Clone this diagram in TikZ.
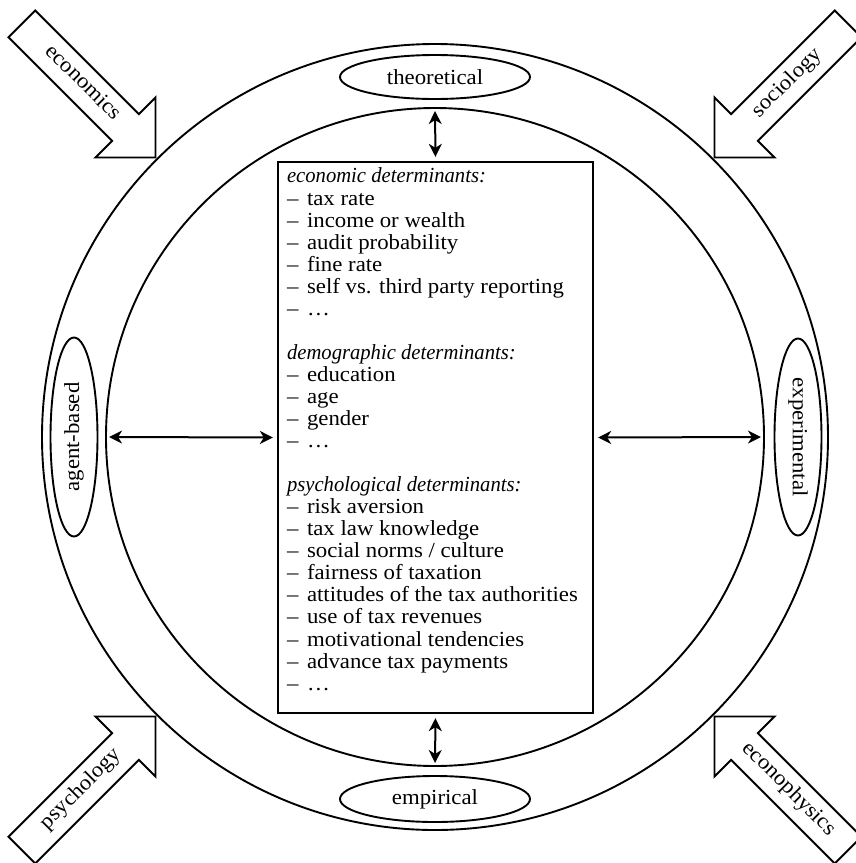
\documentclass[tikz,border=0pt]{standalone}
\usepackage{fontspec}
\setmainfont{Liberation Serif}[UprightFeatures={FakeStretch=1.06},ItalicFeatures={FakeStretch=0.96}]
\usetikzlibrary{shapes.geometric,shapes.arrows,arrows.meta,positioning}

\newcommand\detitem{\makebox[20pt][l]{--}}
\newcommand\labelfont{\fontsize{21.5}{22.05}\selectfont}

\tikzset{
  ring/.style={circle, draw, line width=1.9pt, inner sep=0pt},
  method/.style={ellipse, draw, line width=1.9pt, inner sep=0pt, font=\labelfont},
  field/.style={single arrow, draw, fill=white, line width=1.9pt,
    single arrow head extend=23.5pt, single arrow head indent=0pt,
    minimum height=189pt, text height=13pt, text depth=5pt,
    inner ysep=9pt, inner xsep=0pt, anchor=tip, font=\labelfont},
  link/.style={{Stealth[length=13pt,width=13pt,inset=4pt]}-{Stealth[length=13pt,width=13pt,inset=4pt]},
    line width=2pt, shorten <=4pt, shorten >=4pt},
}

\begin{document}
\begin{tikzpicture}[x=1pt,y=-1pt]
\useasboundingbox (0,0) rectangle (856,863);

%Shape: rings
\coordinate (c) at (435,437);
\node[ring, minimum size=786pt] (outer) at (c) {};
\node[ring, minimum size=658pt] (inner) at (c) {};

%Shape: determinants box
\node[draw, line width=2.3pt, minimum width=315pt, minimum height=551pt, inner sep=0pt] (det) at (435.5,437.5) {};

% Text Node
\node[anchor=north west, inner sep=0pt, align=left, font=\labelfont] (dettext)
  at ([xshift=10pt, yshift=-7pt]det.north west) {%
  \textit{economic determinants:}\\
  \detitem tax rate\\
  \detitem income or wealth\\
  \detitem audit probability\\
  \detitem fine rate\\
  \detitem self vs. third party reporting\\
  \detitem \dots\\[22.05pt]
  \textit{demographic determinants:}\\
  \detitem education\\
  \detitem age\\
  \detitem gender\\
  \detitem \dots\\[22.05pt]
  \textit{psychological determinants:}\\
  \detitem risk aversion\\
  \detitem tax law knowledge\\
  \detitem social norms / culture\\
  \detitem fairness of taxation\\
  \detitem attitudes of the tax authorities\\
  \detitem use of tax revenues\\
  \detitem motivational tendencies\\
  \detitem advance tax payments\\
  \detitem \dots};

%Shape: method ellipses
\node[method, minimum width=190pt, minimum height=44pt] (theo) at (435,77) {theoretical};
\node[method, minimum width=190pt, minimum height=46pt] (emp) at (435,799) {empirical};
\node[method, rotate=90, minimum width=199pt, minimum height=47pt] (agent) at (74,437) {agent-based};
\node[method, rotate=-90, minimum width=197pt, minimum height=47pt] (exper) at (798,437) {experimental};

%Straight Lines: links box -- ring
\draw[link] (det.north) -- (inner.north);
\draw[link] (det.south) -- (inner.south);
\draw[link] (det.west) -- (inner.west);
\draw[link] (det.east) -- (inner.east);

%Shape: discipline arrows
\node[field, rotate=-45] (econ) at (outer.135) {economics};
\node[field, rotate=45, shape border rotate=180] (socio) at (outer.45) {sociology};
\node[field, rotate=45] (psych) at (outer.225) {psychology};
\node[field, rotate=-45, shape border rotate=180] (ephys) at (outer.315) {econophysics};

\end{tikzpicture}
\end{document}
